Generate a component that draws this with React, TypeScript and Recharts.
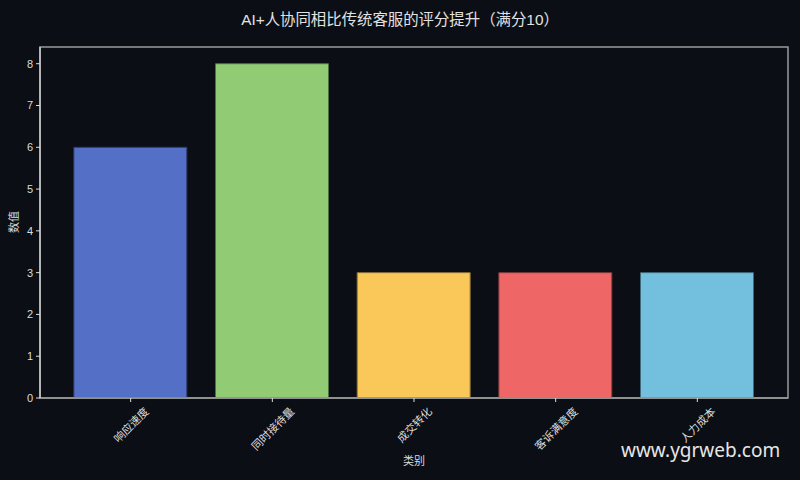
import React from "react";
import { BarChart, Bar, XAxis, YAxis, Cell, ReferenceArea, Label } from "recharts";

const categories = ["响应速度", "同时接待量", "成交转化", "客诉满意度", "人力成本"];
const values = [6, 8, 3, 3, 3];
const colors = ["#5470c6", "#91cc75", "#fac858", "#ee6666", "#73c0de"];
const edgeColors = ["#2c3a66", "#4f7040", "#86703a", "#7a3a3e", "#3e6a7c"];
const yTicks = [0, 1, 2, 3, 4, 5, 6, 7, 8];
const xTicks = [0, 1, 2, 3, 4];
const title = "AI+人协同相比传统客服的评分提升（满分10）";
const xLabel = "类别";
const yLabel = "数值";
const watermark = "www.ygrweb.com";

const FONT = "'Liberation Sans', 'Noto Sans CJK SC', sans-serif";
const TEXT = "#dddddd";

const data = categories.map((name, i) => ({ x: i, name, value: values[i] }));

const XTick = (props: any) => {
  const { x, y, payload } = props;
  const name = categories[payload.value] ?? "";
  const n = name.length;
  const cx = x + 0.5;
  const cy = y + 3.5 + ((n + 1) * 11 * 0.7071) / 2;
  return (
    <text
      x={cx}
      y={cy}
      textAnchor="middle"
      dominantBaseline="central"
      fontSize={11}
      fill={TEXT}
      fontFamily={FONT}
      transform={`rotate(-45, ${cx}, ${cy})`}
    >
      {name}
    </text>
  );
};

export default function App() {
  return (
    <div
      style={{
        position: "fixed",
        left: 0,
        top: 0,
        width: 800,
        height: 480,
        background: "#0b0e14",
        fontFamily: FONT,
        overflow: "hidden",
      }}
    >
      <div
        style={{
          position: "absolute",
          left: 0,
          top: 8,
          width: 800,
          textAlign: "center",
          fontSize: 15.4,
          fontWeight: 400,
          color: "#e2e2e2",
          lineHeight: "24px",
        }}
      >
        {title}
      </div>
      <BarChart
        width={800}
        height={480}
        data={data}
        margin={{ top: 47, right: 12, bottom: 0, left: 0 }}
      >
        <ReferenceArea
          x1={-0.64}
          x2={4.64}
          y1={0}
          y2={8.4}
          fill="none"
          stroke="#9a9a9a"
          strokeWidth={1.5}
          ifOverflow="visible"
        />
        <XAxis
          dataKey="x"
          type="number"
          domain={[-0.64, 4.64]}
          ticks={xTicks}
          allowDataOverflow
          height={82}
          tick={<XTick />}
          tickSize={4}
          tickMargin={0}
          tickLine={{ stroke: TEXT }}
          axisLine={{ stroke: "#9a9a9a", strokeWidth: 1.5 }}
          interval={0}
        >
          <Label
            content={() => (
              <text x={414} y={461} textAnchor="middle" dominantBaseline="central" fontSize={11} fill={TEXT} fontFamily={FONT}>
                {xLabel}
              </text>
            )}
          />
        </XAxis>
        <YAxis
          type="number"
          domain={[0, 8.4]}
          ticks={yTicks}
          allowDataOverflow
          width={40}
          tickSize={4}
          tickMargin={3}
          tick={{ fill: TEXT, fontSize: 11, fontFamily: FONT }}
          tickLine={{ stroke: TEXT }}
          axisLine={{ stroke: TEXT, strokeWidth: 1.2 }}
        >
          <Label
            content={() => (
              <text
                x={14}
                y={222}
                textAnchor="middle"
                dominantBaseline="central"
                fontSize={11}
                fill={TEXT}
                fontFamily={FONT}
                transform="rotate(-90, 14, 222)"
              >
                {yLabel}
              </text>
            )}
          />
        </YAxis>
        <Bar dataKey="value" barSize={113} isAnimationActive={false}>
          {data.map((d, i) => (
            <Cell key={d.name} fill={colors[i]} stroke={edgeColors[i]} strokeWidth={1} />
          ))}
        </Bar>
      </BarChart>
      <div
        style={{
          position: "absolute",
          left: 621,
          top: 436,
          fontSize: 19,
          fontFamily: "'Noto Sans', sans-serif",
          color: "#e6e6e6",
          lineHeight: "28px",
          whiteSpace: "nowrap",
        }}
      >
        {watermark}
      </div>
    </div>
  );
}
